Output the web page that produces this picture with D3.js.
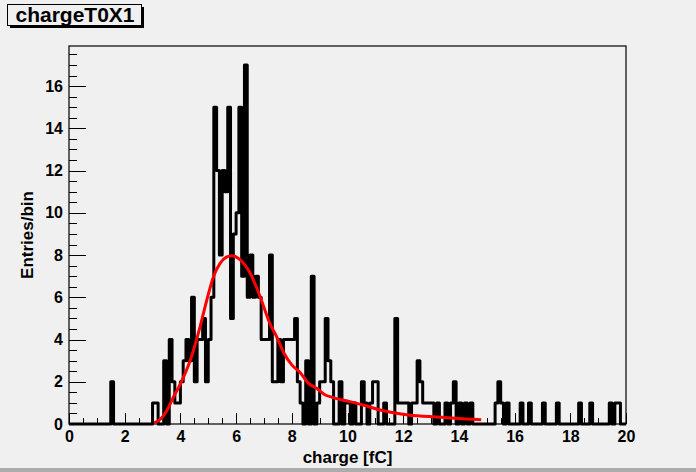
<!DOCTYPE html>
<html lang="en">
<head>
<meta charset="UTF-8">
<title>chargeT0X1</title>
<script src="https://d3js.org/d3.v7.min.js"></script>
<style>
    body { margin: 0; background: #f0f0f0; }
    svg { display: block; }
    text { font-family: "Liberation Sans", Arial, Helvetica, sans-serif; font-weight: bold; fill: #000; }
    .tick line { stroke: #000; stroke-width: 1px; shape-rendering: crispEdges; }
</style>
</head>
<body>
<svg id="chart" width="696" height="472"></svg>
<script>
// histogram: 200 bins of 0.1 fC from 0 to 20, one row = 2 fC
const binWidth = 0.1;
const counts = [
    0, 0, 0, 0, 0, 0, 0, 0, 0, 0,  0, 0, 0, 0, 0, 2, 0, 0, 0, 0,
    0, 0, 0, 0, 0, 0, 0, 0, 0, 0,  1, 1, 0, 0, 3, 0, 4, 2, 1, 1,
    2, 3, 4, 3, 6, 2, 4, 4, 5, 2,  4, 6,15,12, 8,12,11,15, 5, 9,
   10,15, 7,17, 6, 8, 6, 7, 6, 4,  4, 4, 8, 2, 2, 4, 2, 4, 4, 4,
    4, 5, 2, 1, 0, 3, 0, 7, 0, 1,  2, 2, 5, 3, 2, 0, 0, 2, 0, 1,
    1, 0, 1, 0, 0, 2, 1, 0, 1, 2,  2, 0, 0, 1, 0, 0, 0, 5, 1, 1,
    1, 1, 0, 1, 1, 3, 2, 1, 1, 1,  1, 0, 1, 0, 0, 1, 0, 1, 2, 0,
    1, 0, 1, 0, 1, 0, 0, 0, 0, 0,  0, 0, 0, 1, 2, 1, 0, 1, 0, 0,
    0, 0, 1, 0, 0, 1, 0, 0, 0, 0,  1, 0, 0, 0, 0, 1, 0, 0, 0, 0,
    0, 0, 0, 1, 0, 0, 0, 1, 0, 0,  0, 0, 0, 0, 1, 0, 1, 1, 0, 0
];

// fitted curve
const fitX = [3.05, 3.3, 3.5, 3.76, 4.0, 4.36, 4.71, 4.95, 5.19, 5.43, 5.65, 5.85, 6.14, 6.5, 6.86, 7.21, 7.45, 7.7, 8.0, 8.29, 8.58, 8.89, 9.17, 9.49, 10.09, 10.69, 11.17, 12.18, 13.38, 13.86, 14.8];
const fitY = [0.05, 0.25, 0.6, 1.3, 1.9, 3.04, 4.62, 5.88, 6.99, 7.62, 7.9, 7.97, 7.78, 7.15, 6.04, 4.77, 4.15, 3.4, 2.8, 2.45, 1.95, 1.69, 1.4, 1.25, 1.06, 0.85, 0.66, 0.43, 0.32, 0.27, 0.2];

const xMajor = d3.range(0, 20.01, 2);
const xMinor = d3.range(0, 20.01, 0.5);
const yMajor = d3.range(0, 16.01, 2);
const yMinor = d3.range(0, 17.6, 0.5);

const W = 696, H = 472;
const frame = { left: 69, right: 626, top: 46, bottom: 424 };

const svg = d3.select("#chart");

svg.append("rect").attr("width", W).attr("height", H).attr("fill", "#f0f0f0");
svg.append("rect").attr("x", 0).attr("y", H - 4).attr("width", W).attr("height", 4).attr("fill", "#acacac");

const x = d3.scaleLinear().domain([0, 20]).range([frame.left, frame.right]);
const y = d3.scaleLinear().domain([0, 17.9]).range([frame.bottom, frame.top]);

// frame
svg.append("rect")
    .attr("x", frame.left).attr("y", frame.top)
    .attr("width", frame.right - frame.left).attr("height", frame.bottom - frame.top)
    .attr("fill", "#f0f0f0").attr("stroke", "#000").attr("stroke-width", 1.2);

// axes, ticks pointing into the frame
const gx = svg.append("g").attr("transform", `translate(0,${frame.bottom})`);
gx.call(d3.axisBottom(x).tickValues(xMinor).tickSize(-5.7).tickFormat(""));
gx.call(g => g.select(".domain").remove());
const gx2 = svg.append("g").attr("transform", `translate(0,${frame.bottom})`);
gx2.call(d3.axisBottom(x).tickValues(xMajor).tickSize(-11).tickPadding(7).tickFormat(d3.format("d")));
gx2.select(".domain").remove();
gx2.selectAll("text").attr("font-size", 16);

const gy = svg.append("g").attr("transform", `translate(${frame.left},0)`);
gy.call(d3.axisLeft(y).tickValues(yMinor).tickSize(-8.4).tickFormat(""));
gy.select(".domain").remove();
const gy2 = svg.append("g").attr("transform", `translate(${frame.left},0)`);
gy2.call(d3.axisLeft(y).tickValues(yMajor).tickSize(-16.7).tickPadding(6).tickFormat(d3.format("d")));
gy2.select(".domain").remove();
gy2.selectAll("text").attr("font-size", 16);

// histogram outline
const steps = counts.map((c, i) => [i * binWidth, c]);
steps.push([counts.length * binWidth, 0]);
svg.append("path")
    .datum(steps)
    .attr("fill", "none")
    .attr("stroke", "#000")
    .attr("stroke-width", 3)
    .attr("stroke-linejoin", "round")
    .attr("d", d3.line().x(d => x(d[0])).y(d => y(d[1])).curve(d3.curveStepAfter));

// fit
svg.append("path")
    .datum(fitX.map((v, i) => [v, fitY[i]]))
    .attr("fill", "none")
    .attr("stroke", "#ff0000")
    .attr("stroke-width", 3)
    .attr("d", d3.line().x(d => x(d[0])).y(d => y(d[1])).curve(d3.curveMonotoneX));

// axis titles
svg.append("text")
    .attr("x", (frame.left + frame.right) / 2).attr("y", 463)
    .attr("text-anchor", "middle").attr("font-size", 17)
    .text("charge [fC]");
svg.append("text")
    .attr("transform", `translate(33,${(frame.top + frame.bottom) / 2}) rotate(-90)`)
    .attr("text-anchor", "middle").attr("font-size", 17)
    .text("Entries/bin");

// title box with shadow
svg.append("rect").attr("x", 10).attr("y", 7).attr("width", 134).attr("height", 21).attr("fill", "#000");
svg.append("rect").attr("x", 7.5).attr("y", 4.5).attr("width", 134).attr("height", 21)
    .attr("fill", "#f0f0f0").attr("stroke", "#000").attr("stroke-width", 1);
svg.append("text")
    .attr("x", 75).attr("y", 22)
    .attr("text-anchor", "middle").attr("font-size", 21)
    .text("chargeT0X1");
</script>
</body>
</html>
